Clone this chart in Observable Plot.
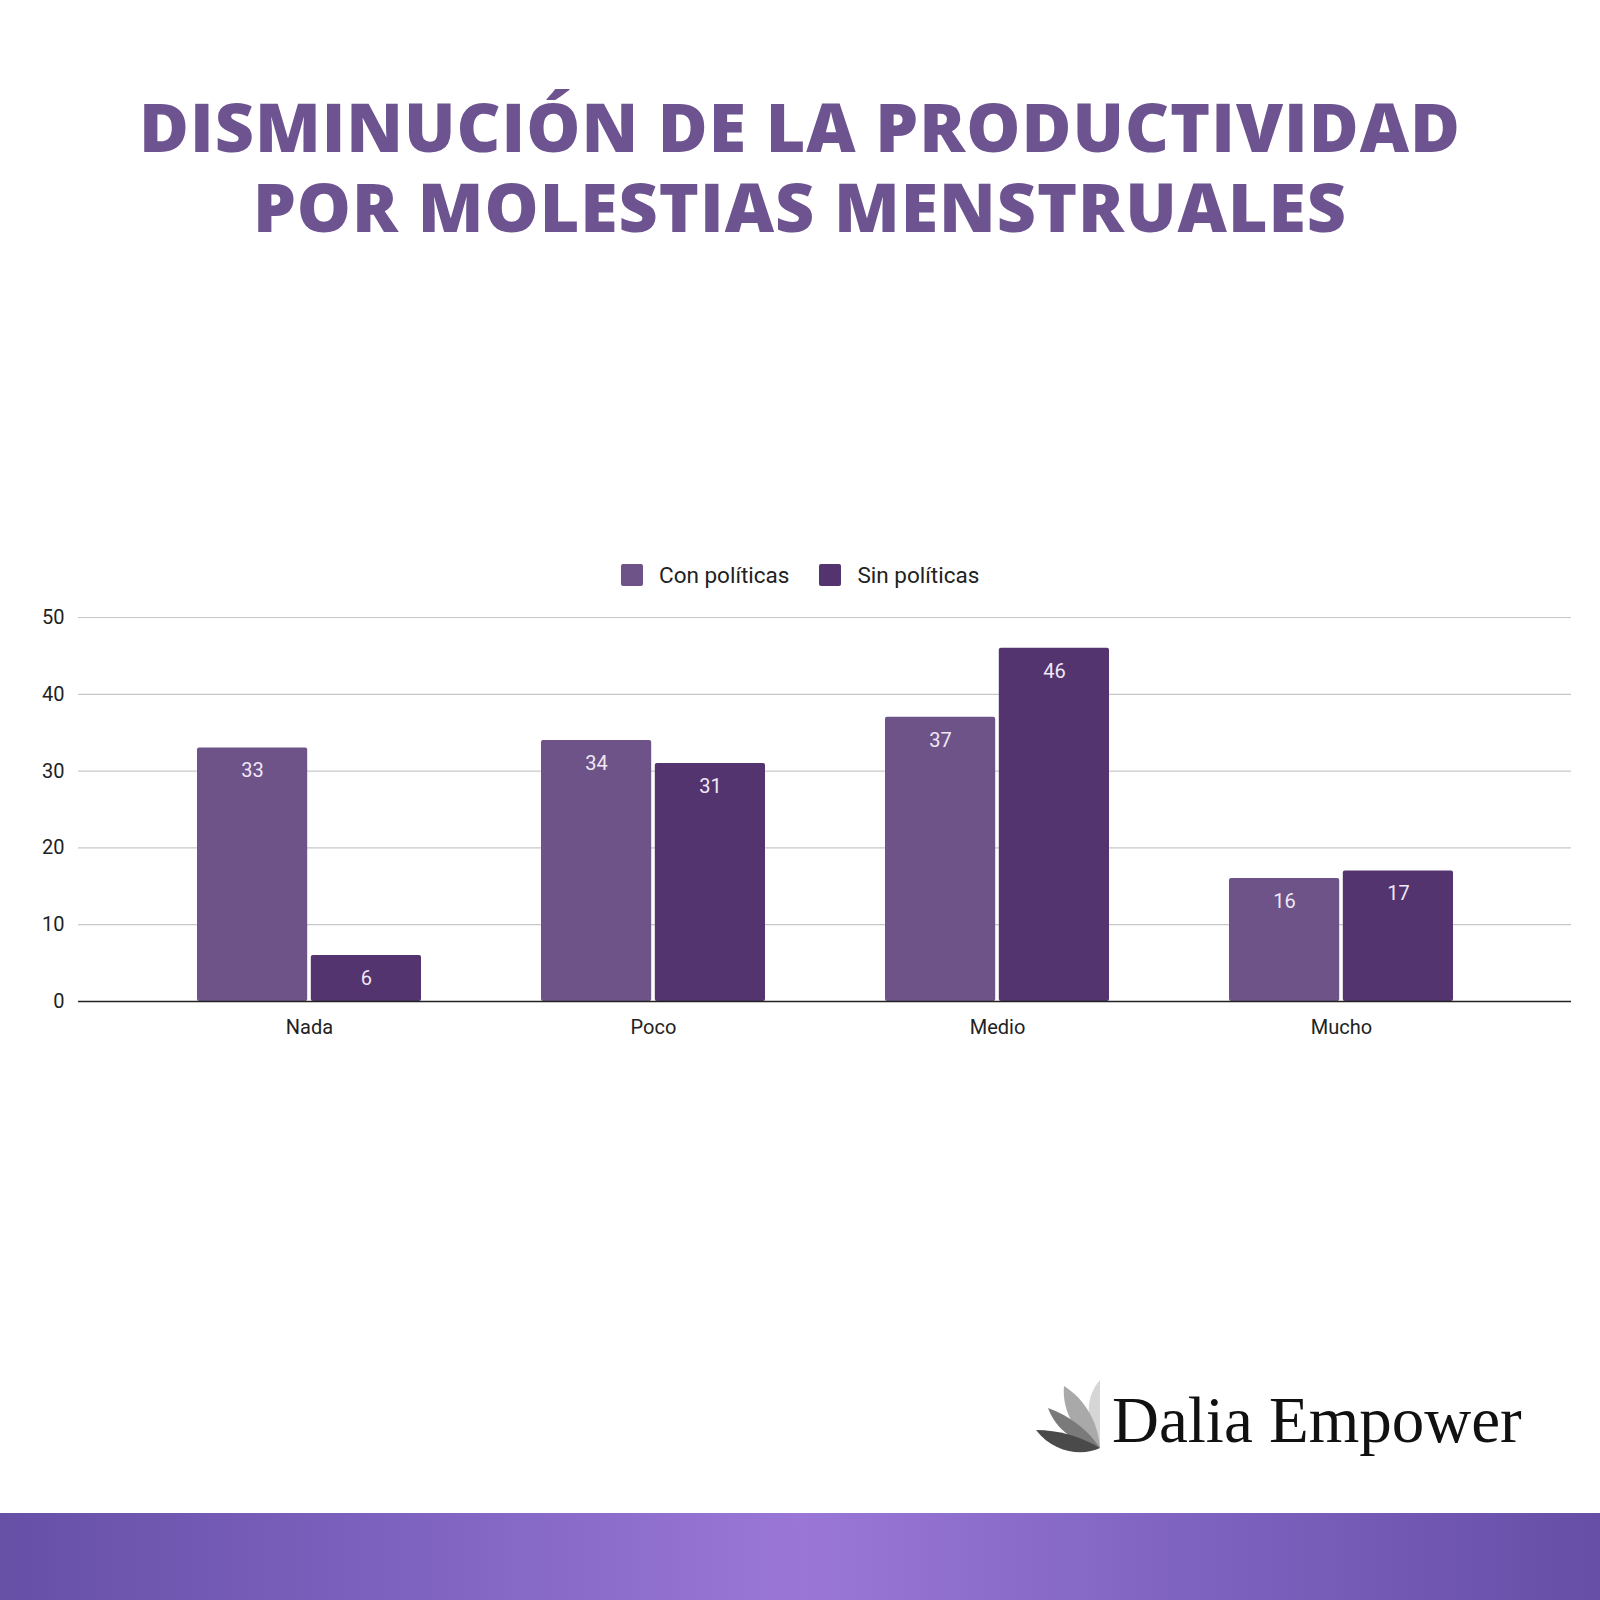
<!DOCTYPE html>
<html>
<head>
<meta charset="utf-8">
<script src="https://cdn.jsdelivr.net/npm/d3@7"></script>
<script src="https://cdn.jsdelivr.net/npm/@observablehq/plot@0.6"></script>
<style>
  html, body { margin: 0; padding: 0; background: #fff; }
  #page { position: relative; width: 1600px; height: 1600px; overflow: hidden; background: #fff; }
  #title { position: absolute; left: 0; top: 86px; width: 1600px; text-align: center; font-family: "Open Sans", sans-serif; font-weight: 800; color: #6d5490; font-size: 68px; line-height: 80px; white-space: nowrap; letter-spacing: 1.0px; }
  #legend { position: absolute; top: 562px; left: 621px; font-family: Roboto, sans-serif; font-size: 22.5px; color: #222; display: flex; align-items: center; }
  #legend .sw { width: 22px; height: 22px; display: inline-block; margin-right: 16px; border-radius: 2px; }
  #legend .item { display: flex; align-items: center; margin-right: 30px; }
  #chart { position: absolute; top: 560px; left: 0; }
  #brand { position: absolute; left: 1112px; top: 1388px; font-family: "Liberation Serif", serif; font-size: 65px; color: #111; line-height: 1; white-space: nowrap; }
  #logo { position: absolute; left: 1036px; top: 1378px; }
  #band { position: absolute; left: 0; top: 1513px; width: 1600px; height: 87px; background: linear-gradient(90deg, #6650a6 0%, #7e62c0 25%, #9a77d7 50%, #7e62c0 75%, #664ea6 100%); }
</style>
</head>
<body>
<div id="page">
  <div id="title">DISMINUCIÓN DE LA PRODUCTIVIDAD<br>POR MOLESTIAS MENSTRUALES</div>
  <div id="legend"></div>
  <div id="chart"></div>
  <svg id="logo" width="80" height="75" viewBox="0 0 80 75">
    <path d="M64 2 C50 18 48 40 64 70 Z" fill="#d6d6d6"/>
    <path d="M28 8 C26 30 36 55 64 70 C62 45 50 22 28 8 Z" fill="#a9a9a9"/>
    <path d="M12 30 C20 52 40 66 64 70 C52 52 34 38 12 30 Z" fill="#7a7a7a"/>
    <path d="M0 52 C18 76 48 78 64 70 C44 58 22 52 0 52 Z" fill="#4a4a4a"/>
  </svg>
  <div id="brand">Dalia Empower</div>
  <div id="band"></div>
</div>
<script>
const categories = ["Nada", "Poco", "Medio", "Mucho"];
const seriesNames = ["Con políticas", "Sin políticas"];
const conPoliticas = [33, 34, 37, 16];
const sinPoliticas = [6, 31, 46, 17];
const yTicks = [0, 10, 20, 30, 40, 50];
const colors = ["#6d5388", "#53346e"];

const conData = categories.map((c, i) => ({category: c, series: seriesNames[0], value: conPoliticas[i]}));
const sinData = categories.map((c, i) => ({category: c, series: seriesNames[1], value: sinPoliticas[i]}));

const width = 1600, marginLeft = 78, marginRight = 29;
const pInner = 0.35, pOuter = 0.345;
const step = (width - marginLeft - marginRight) / (categories.length - pInner + 2 * pOuter);
const bw = step * (1 - pInner);
const gap = 4;
const half = bw / 2 + gap / 2;
const labelShift = bw / 4 + gap / 4;

const chart = Plot.plot({
  width,
  height: 501,
  marginLeft,
  marginRight,
  marginTop: 57,
  marginBottom: 60,
  style: {fontFamily: "Roboto, sans-serif", fontSize: "20px", color: "#222", background: "transparent"},
  x: {domain: categories, paddingInner: pInner, paddingOuter: pOuter, label: null},
  y: {domain: [0, 50], label: null},
  marks: [
    Plot.gridY(yTicks, {stroke: "#c8c8c8", strokeOpacity: 1, strokeWidth: 1.2}),
    Plot.axisY(yTicks, {tickSize: 0, tickPadding: 14, fontSize: 20, fill: "#222", label: null}),
    Plot.axisX({tickSize: 0, tickPadding: 18, fontSize: 20, fill: "#222", label: null}),
    Plot.barY(conData, {x: "category", y: "value", fill: colors[0], insetRight: half, rx: 2}),
    Plot.barY(sinData, {x: "category", y: "value", fill: colors[1], insetLeft: half, rx: 2}),
    Plot.text(conData, {x: "category", y: "value", text: d => String(d.value), dx: -labelShift, dy: 23, fill: "#f1e8f6", fontSize: 20, textAnchor: "middle", lineAnchor: "middle"}),
    Plot.text(sinData, {x: "category", y: "value", text: d => String(d.value), dx: labelShift, dy: 23, fill: "#f1e8f6", fontSize: 20, textAnchor: "middle", lineAnchor: "middle"}),
    Plot.ruleY([0], {stroke: "#222", strokeWidth: 1.6})
  ]
});
document.getElementById("chart").appendChild(chart);

const legend = document.getElementById("legend");
seriesNames.forEach((name, i) => {
  const item = document.createElement("div");
  item.className = "item";
  const sw = document.createElement("span");
  sw.className = "sw";
  sw.style.background = colors[i];
  const lab = document.createElement("span");
  lab.textContent = name;
  item.appendChild(sw);
  item.appendChild(lab);
  legend.appendChild(item);
});
</script>
</body>
</html>
